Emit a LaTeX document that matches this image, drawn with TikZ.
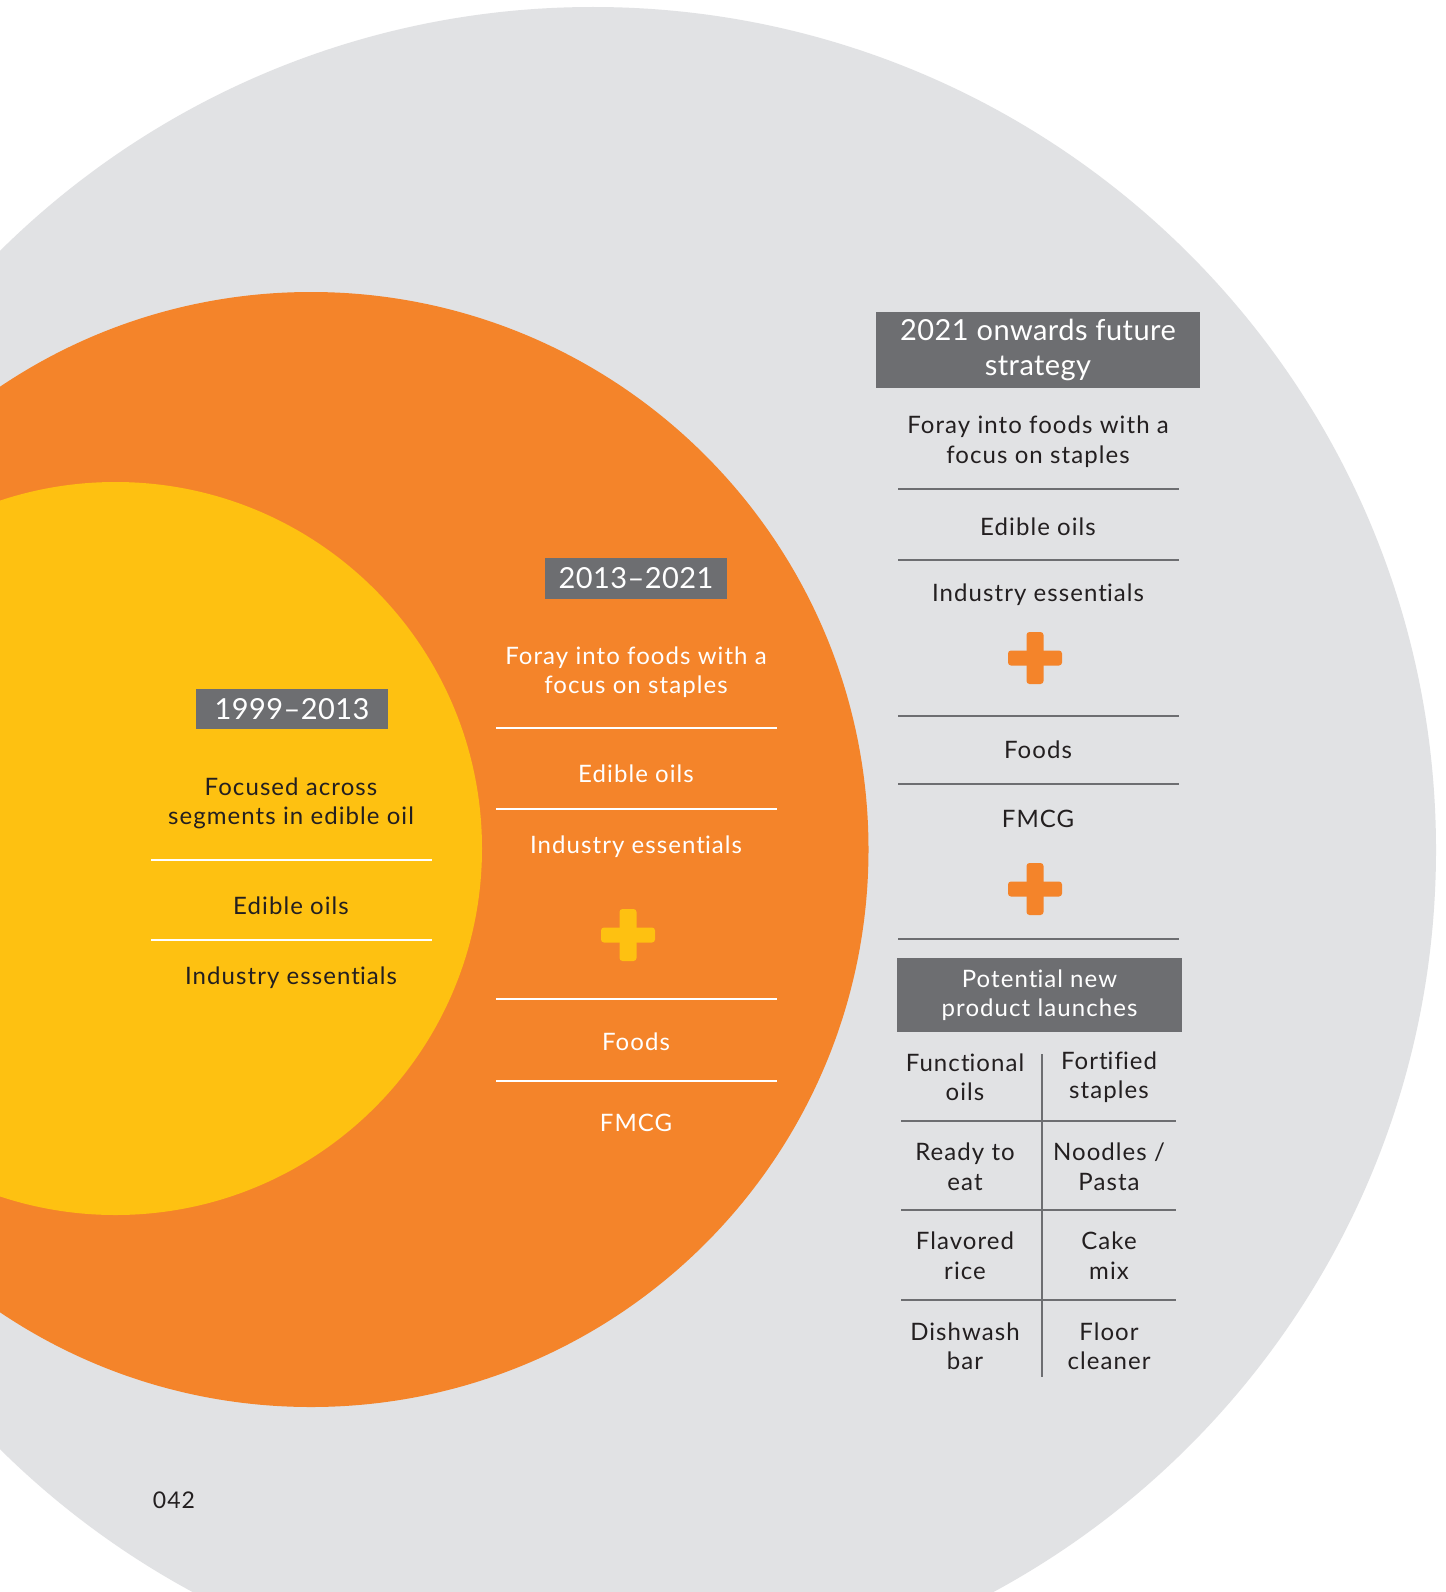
\documentclass[tikz,border=0pt]{standalone}
\usepackage{fontspec}
\setmainfont{Lato}
\newfontfamily\bodyfont[LetterSpace=4.5,Ligatures={NoCommon,NoRare,NoContextual}]{Lato}
\newfontfamily\headfont[LetterSpace=1.5,Ligatures={NoCommon,NoRare,NoContextual}]{Lato}
\newcommand\lgbrk{\kern0pt }
\definecolor{bggrey}{HTML}{E1E2E4}
\definecolor{orng}{HTML}{F4842A}
\definecolor{yell}{HTML}{FEC111}
\definecolor{boxgrey}{HTML}{6D6E71}
\definecolor{linegrey}{HTML}{6D6E71}
\definecolor{ink}{HTML}{231F20}
\tikzset{
  txt/.style={inner sep=0pt, align=center, yshift=-1pt, font=\bodyfont\fontsize{24}{29.5}\selectfont},
  boxbg/.style={fill=boxgrey, inner sep=0pt, align=center, text=white},
  sepw/.style={white, line width=2pt},
  sepg/.style={linegrey, line width=2pt},
  pics/plusmark/.style={code={
    \fill[#1, rounded corners=3pt] (-27,-7.5) rectangle (27,7.5);
    \fill[#1, rounded corners=3pt] (-8.5,-26) rectangle (8.5,26);
  }}
}
\begin{document}
\begin{tikzpicture}[x=1pt,y=-1pt]
\useasboundingbox (0,0) rectangle (1445,1592);
\begin{scope}
\clip (0,0) rectangle (1445,1592);
\fill[white] (0,0) rectangle (1445,1592);
\fill[bggrey] (593,850) circle[radius=843];
\fill[orng] (311,849.5) circle[radius=557.5];
\fill[yell] (115.5,848.5) circle[radius=366.5];
\end{scope}

% ---------- 1999-2013 (yellow) ----------
\node[boxbg, minimum width=192pt, minimum height=40pt, font=\headfont\fontsize{29}{35}\selectfont] (y0) at (292,709) {1999–2013};
\node[txt, yshift=-1pt, text=ink] (y1) at (291,801.5) {Focused across\\segments in edible oil};
\draw[sepw] (151,860) -- (432,860);
\node[txt, text=ink] (y2) at (291,905) {Edible oils};
\draw[sepw] (151,940) -- (432,940);
\node[txt, text=ink] (y3) at (291,977) {Industry essent\lgbrk ials};

% ---------- 2013-2021 (orange) ----------
\node[boxbg, minimum width=182pt, minimum height=41pt, font=\headfont\fontsize{29}{35}\selectfont] (o0) at (636,578.5) {2013–2021};
\node[txt, yshift=-1pt, text=white] (o1) at (636,670) {Foray into foods with a\\focus on staples};
\draw[sepw] (496,728) -- (777,728);
\node[txt, text=white] (o2) at (636,773) {Edible oils};
\draw[sepw] (496,809) -- (777,809);
\node[txt, text=white] (o3) at (636,846) {Industry essent\lgbrk ials};
\pic at (628,935) {plusmark=yell};
\draw[sepw] (496,999) -- (777,999);
\node[txt, text=white] (o4) at (636,1041) {Foods};
\draw[sepw] (496,1081) -- (777,1081);
\node[txt, text=white] (o5) at (636,1122) {FMCG};

% ---------- 2021 onwards (grey) ----------
\node[boxbg, minimum width=324pt, minimum height=76pt, font=\headfont\fontsize{29}{35}\selectfont] (r0) at (1038,350) {2021 onwards future\\strategy};
\node[txt, yshift=-1pt, text=ink] (r1) at (1038,439.5) {Foray into foods with a\\focus on staples};
\draw[sepg] (898,489) -- (1179,489);
\node[txt, text=ink] (r2) at (1038,526) {Edible oils};
\draw[sepg] (898,560) -- (1179,560);
\node[txt, text=ink] (r3) at (1038,594) {Industry essent\lgbrk ials};
\pic at (1035,658) {plusmark=orng};
\draw[sepg] (898,716) -- (1179,716);
\node[txt, text=ink] (r4) at (1038,749) {Foods};
\draw[sepg] (898,784) -- (1179,784);
\node[txt, text=ink] (r5) at (1038,818) {FMCG};
\pic at (1035,889) {plusmark=orng};
\draw[sepg] (898,939) -- (1179,939);

\node[boxbg, minimum width=285pt, minimum height=74pt, font=\bodyfont\fontsize{24}{29.5}\selectfont] (p0) at (1039.5,995) {Potent\lgbrk ial new\\product launches};

\draw[sepg] (1042,1054) -- (1042,1377);
\draw[sepg] (901,1121) -- (1176,1121);
\draw[sepg] (901,1210) -- (1176,1210);
\draw[sepg] (901,1300) -- (1176,1300);

\node[txt, yshift=1pt, text=ink] (t11) at (965,1077) {Funct\lgbrk ional\\oils};
\node[txt, yshift=1pt, text=ink] (t12) at (1109,1077) {Fort\lgbrk if\lgbrk ied\\staples};
\node[txt, yshift=1pt, text=ink] (t21) at (965,1166.5) {Ready to\\eat};
\node[txt, yshift=1pt, text=ink] (t22) at (1109,1166.5) {Noodles /\\Pasta};
\node[txt, yshift=1pt, text=ink] (t31) at (965,1255.5) {Flavored\\rice};
\node[txt, yshift=1pt, text=ink] (t32) at (1109,1255.5) {Cake\\mix};
\node[txt, yshift=1pt, text=ink] (t41) at (965,1346) {Dishwash\\bar};
\node[txt, yshift=1pt, text=ink] (t42) at (1109,1346) {Floor\\cleaner};

\node[inner sep=0pt, text=ink, font=\bodyfont\fontsize{23}{28}\selectfont] (pg) at (174,1500) {042};
\end{tikzpicture}
\end{document}
